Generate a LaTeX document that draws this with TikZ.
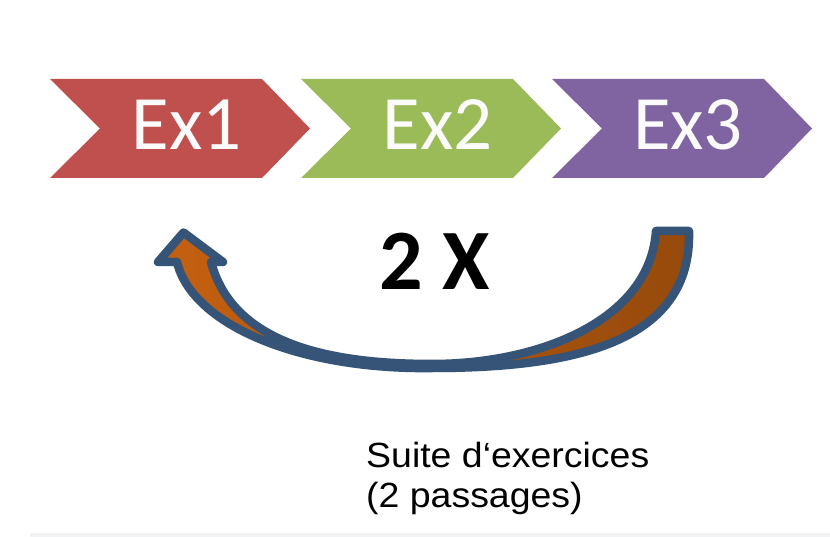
\documentclass[tikz,border=0pt]{standalone}
\usepackage{fontspec}
\setmainfont{Carlito}
\newfontfamily\arialfont{Liberation Sans}
\definecolor{exred}{HTML}{C0504D}
\definecolor{exgreen}{HTML}{9BBB59}
\definecolor{expurple}{HTML}{8064A2}
\definecolor{arrblue}{RGB}{53,84,120}
\definecolor{arrorangeA}{RGB}{197,96,16}
\definecolor{arrorangeB}{RGB}{150,74,12}
\definecolor{stripgray}{RGB}{242,243,245}
\begin{document}
\begin{tikzpicture}[x=1pt,y=-1pt,
  chevron/.pic={\path[pic actions] (0,0) -- (212,0) -- (260,49.5) -- (212,99) -- (0,99) -- (50,49.5) -- cycle;},
  extext/.style={anchor=base, inner sep=0, text=white!97!gray, font=\fontsize{77}{82}\selectfont},
  caption/.style={anchor=base west, inner sep=0, xscale=1.07, font=\arialfont\fontsize{35}{40}\selectfont},
  loop/.style={draw=arrblue, line width=8.5, line join=round, left color=arrorangeA, right color=arrorangeB}]
\useasboundingbox (0,0) rectangle (830,537);
\fill[white] (0,0) rectangle (830,537);
\fill[stripgray] (30,533) rectangle (830,537);
\pic[fill=exred] at (50,79) {chevron};
\pic[fill=exgreen] at (301,79) {chevron};
\pic[fill=expurple] at (552,79) {chevron};
\node[extext] (ex1) at (186.5,150) {Ex1};
\node[extext] (ex2) at (437.5,150) {Ex2};
\node[extext] (ex3) at (688,150) {Ex3};
\path[loop] (656,231) -- (689,231)
  .. controls (692,340) and (580,368) .. (432,368)
  .. controls (300,370) and (192,325) .. (177,262)
  -- (158,262) -- (183.5,232.5) -- (223,262) -- (211,262)
  .. controls (232,340) and (320,364) .. (432,364)
  .. controls (540,364) and (650,320) .. (656,231) -- cycle;
\node[anchor=base, inner sep=0, font=\bfseries\fontsize{86}{90}\selectfont] (times) at (435,290) {2 X};
\node[caption] (cap1) at (366,467) {Suite d‘exercices};
\node[caption] (cap2) at (366,507) {(2 passages)};
\end{tikzpicture}
\end{document}
